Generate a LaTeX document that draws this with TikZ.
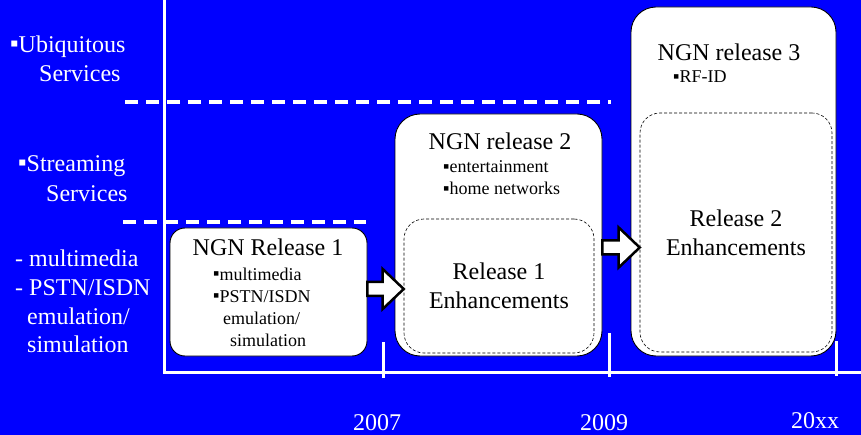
\documentclass[tikz,border=0pt]{standalone}
\usepackage{fontspec}
\setmainfont{Liberation Serif}
\usetikzlibrary{positioning,calc}
\definecolor{slideBlue}{RGB}{0,0,255}
\newcommand{\sqbul}{\raisebox{0.05em}{▪}}
\newcommand{\blockarrow}[2]{%
  \draw[blockarr] let \p1=(#1), \p2=(#2) in
    (\x1,\y2+7pt) -- (\x2-21pt,\y2+7pt) -- (\x2-21pt,\y2+20pt) -- (\x2,\y2)
    -- (\x2-21pt,\y2-20pt) -- (\x2-21pt,\y2-7pt) -- (\x1,\y2-7pt) -- cycle;}

\begin{document}
\begin{tikzpicture}[x=1pt,y=-1pt,
    relbox/.style={draw=black, fill=white, line width=0.9pt, rounded corners=25pt, inner sep=0pt},
    enhbox/.style={draw=black, fill=white, line width=0.6pt, dash pattern=on 3pt off 2pt,
                   rounded corners=20pt, align=center, inner sep=0pt,
                   font=\fontsize{24}{29}\selectfont},
    title/.style={font=\fontsize{24}{28}\selectfont, anchor=base, inner sep=0pt},
    item/.style={font=\fontsize{18}{22}\selectfont, anchor=base west, inner sep=0pt, align=left},
    side/.style={font=\fontsize{24}{28}\selectfont, text=white, anchor=base west, inner sep=0pt},
    year/.style={font=\fontsize{24}{28}\selectfont, text=white, anchor=base, inner sep=0pt},
    axis/.style={white, line width=3pt},
    sep/.style={white, line width=3.5pt, dash pattern=on 13pt off 8pt},
    blockarr/.style={draw=black, fill=white, line width=2.5pt, line join=miter}
  ]
  \fill[slideBlue] (0,0) rectangle (861,435);
  \useasboundingbox (0,0) rectangle (861,435);

  \draw[sep] (125,102) -- (611,102);
  \draw[sep] (123,222) -- (366,222);

  \draw[axis] (164,0) -- (164,372) -- (861,372);
  \draw[axis] (383,342) -- (383,378);
  \draw[axis] (609,333) -- (609,377);
  \draw[axis] (836,341) -- (836,376);

  \node[side] (ubi)  at (10,53)  {\sqbul Ubiquitous};
  \node[side] (ubis) at (39,82)  {Services};
  \node[side] (str)  at (18,172) {\sqbul Streaming};
  \node[side] (strs) at (46,202) {Services};
  \node[side] (mm)   at (15,267) {- multimedia};
  \node[side] (pstn) at (15,296) {- PSTN/ISDN};
  \node[side] (emu)  at (27,324) {emulation/};
  \node[side] (sim)  at (27,352) {simulation};

  \node[relbox, rounded corners=15pt, minimum width=197pt, minimum height=128pt] (rel1) at (268.5,292) {};
  \node[relbox, minimum width=207pt, minimum height=242pt] (rel2) at (498.5,235) {};
  \node[enhbox, minimum width=190pt, minimum height=134pt] (enh1) at (499,286) {Release 1\\Enhancements};
  \node[relbox, minimum width=205pt, minimum height=349pt] (rel3) at (733.5,181.5) {};
  \node[enhbox, minimum width=192pt, minimum height=239pt] (enh3) at (736,232.5) {Release 2\\Enhancements};

  \node[title] (t1) at (268,256) {NGN Release 1};
  \node[item]  (i1) at (213,346) {\sqbul multimedia\\\sqbul PSTN/ISDN\\\hspace*{10pt}emulation/\\\hspace*{17pt}simulation};
  \node[title] (t2) at (500,150) {NGN release 2};
  \node[item]  (i2) at (443,195) {\sqbul entertainment\\\sqbul home networks};
  \node[title] (t3) at (729,61)  {NGN release 3};
  \node[item]  (i3) at (673,83)  {\sqbul RF-ID};

  \blockarrow{rel1.east}{$(enh1.west)+(0,3)$}
  \blockarrow{rel2.east}{$(enh3.west)+(0,15)$}

  \node[year] (y1) at (377,430) {2007};
  \node[year] (y2) at (604,430) {2009};
  \node[year] (y3) at (815,428) {20xx};
\end{tikzpicture}
\end{document}
